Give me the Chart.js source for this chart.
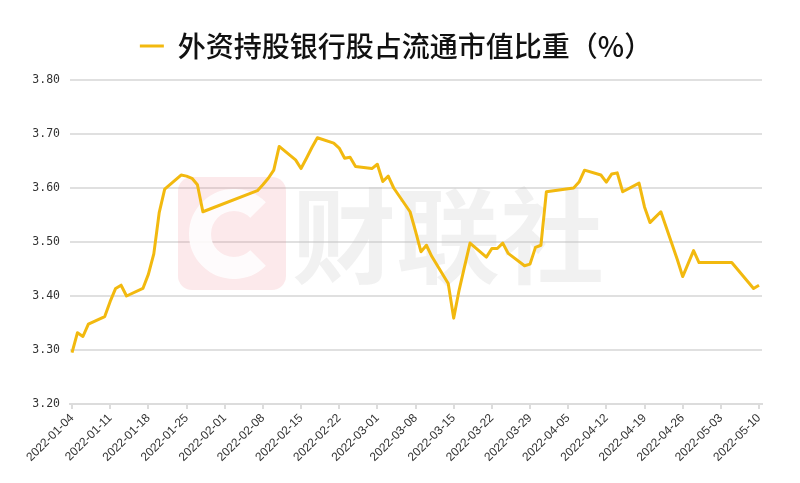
<!DOCTYPE html>
<html>
<head>
<meta charset="utf-8">
<script src="https://cdn.jsdelivr.net/npm/chart.js@4/dist/chart.umd.min.js"></script>
<style>
  html, body { margin: 0; padding: 0; background: #fff; }
</style>
</head>
<body>
<canvas id="share_chart" width="800" height="483"></canvas>
<script>
// data: trading days and the share (%) on each
const series_label = '外资持股银行股占流通市值比重（%）'

const trade_dates = [
  '2022-01-04', '2022-01-05', '2022-01-06', '2022-01-07', '2022-01-10', '2022-01-11', '2022-01-12', '2022-01-13', '2022-01-14',
  '2022-01-17', '2022-01-18', '2022-01-19', '2022-01-20', '2022-01-21', '2022-01-24', '2022-01-25', '2022-01-26', '2022-01-27', '2022-01-28',
  '2022-02-07', '2022-02-08', '2022-02-09', '2022-02-10', '2022-02-11', '2022-02-14', '2022-02-15', '2022-02-16', '2022-02-17', '2022-02-18',
  '2022-02-21', '2022-02-22', '2022-02-23', '2022-02-24', '2022-02-25', '2022-02-28',
  '2022-03-01', '2022-03-02', '2022-03-03', '2022-03-04', '2022-03-07', '2022-03-08', '2022-03-09', '2022-03-10', '2022-03-11',
  '2022-03-14', '2022-03-15', '2022-03-16', '2022-03-17', '2022-03-18', '2022-03-21', '2022-03-22', '2022-03-23', '2022-03-24', '2022-03-25',
  '2022-03-28', '2022-03-29', '2022-03-30', '2022-03-31', '2022-04-01',
  '2022-04-06', '2022-04-07', '2022-04-08', '2022-04-11', '2022-04-12', '2022-04-13', '2022-04-14', '2022-04-15',
  '2022-04-18', '2022-04-19', '2022-04-20', '2022-04-21', '2022-04-22', '2022-04-25', '2022-04-26', '2022-04-27', '2022-04-28', '2022-04-29',
  '2022-05-05', '2022-05-06', '2022-05-09', '2022-05-10'
]

const share_values = [
  3.295, 3.332, 3.325, 3.348, 3.362, 3.390, 3.414, 3.420, 3.400,
  3.414, 3.440, 3.478, 3.555, 3.598, 3.624, 3.622, 3.618, 3.606, 3.556,
  3.595, 3.606, 3.618, 3.633, 3.677, 3.652, 3.636, 3.655, 3.675, 3.693,
  3.683, 3.674, 3.655, 3.657, 3.640, 3.636,
  3.644, 3.612, 3.622, 3.600, 3.556, 3.520, 3.482, 3.494, 3.473,
  3.423, 3.359, 3.411, 3.455, 3.498, 3.472, 3.488, 3.488, 3.498, 3.479,
  3.456, 3.459, 3.490, 3.494, 3.593,
  3.600, 3.611, 3.633, 3.624, 3.611, 3.626, 3.628, 3.593,
  3.609, 3.565, 3.536, 3.546, 3.556, 3.468, 3.436, 3.460, 3.484, 3.462,
  3.462, 3.450, 3.414, 3.420
]

const x_tick_labels = [
  '2022-01-04', '2022-01-11', '2022-01-18', '2022-01-25', '2022-02-01', '2022-02-08', '2022-02-15',
  '2022-02-22', '2022-03-01', '2022-03-08', '2022-03-15', '2022-03-22', '2022-03-29', '2022-04-05',
  '2022-04-12', '2022-04-19', '2022-04-26', '2022-05-03', '2022-05-10'
]

const y_min = 3.2
const y_max = 3.8
const y_step = 0.1

// days counted from the first date, so the axis keeps calendar spacing
function day_index(date_string) {
  const t = Date.parse(date_string + 'T00:00:00Z')
  return Math.round((t - Date.parse(x_tick_labels[0] + 'T00:00:00Z')) / 86400000)
}

const points = trade_dates.map((d, i) => ({ x: day_index(d), y: share_values[i] }))
const last_day = day_index(x_tick_labels[x_tick_labels.length - 1])

// legend box height, so the plot starts where the picture's does
const legend_height_fix = {
  id: 'legend_height_fix',
  beforeInit(chart) {
    const orig_fit = chart.legend.fit
    chart.legend.fit = function () {
      orig_fit.call(this)
      this.height = 58
    }
  }
}

// faint 财联社 watermark behind the line
const watermark = {
  id: 'watermark',
  beforeDatasetsDraw(chart) {
    const ctx = chart.ctx
    ctx.save()
    ctx.fillStyle = 'rgba(236, 120, 130, 0.16)'
    ctx.beginPath()
    ctx.roundRect(178, 177, 108, 113, 14)
    ctx.fill()
    ctx.strokeStyle = 'rgba(255, 255, 255, 0.85)'
    ctx.lineWidth = 22
    ctx.beginPath()
    ctx.arc(234, 234, 34, 0.25 * Math.PI, 1.75 * Math.PI)
    ctx.stroke()
    ctx.fillStyle = 'rgba(190, 190, 190, 0.22)'
    ctx.font = 'bold 104px "Noto Sans CJK SC"'
    ctx.textBaseline = 'middle'
    ctx.fillText('财联社', 292, 236)
    ctx.restore()
  }
}

const config = {
  type: 'line',
  data: {
    datasets: [{
      label: series_label,
      data: points,
      borderColor: '#f2b90f',
      backgroundColor: '#f2b90f',
      borderWidth: 3,
      borderJoinStyle: 'round',
      pointRadius: 0,
      tension: 0,
      fill: false
    }]
  },
  options: {
    responsive: false,
    animation: false,
    layout: { padding: { top: 22, right: 38, left: 30, bottom: 0 } },
    plugins: {
      legend: {
        position: 'top',
        onClick: null,
        labels: {
          usePointStyle: true,
          pointStyle: 'line',
          pointStyleWidth: 24,
          padding: 10,
          color: '#111',
          font: { family: '"Noto Sans CJK SC"', size: 28, weight: '500' }
        }
      },
      tooltip: { enabled: false }
    },
    scales: {
      x: {
        type: 'linear',
        min: -0.37,
        max: last_day + 0.55,
        afterBuildTicks: scale => {
          scale.ticks = x_tick_labels.map(l => ({ value: day_index(l) }))
        },
        afterFit: scale => { scale.height = 79 },
        ticks: {
          autoSkip: false,
          minRotation: 45,
          maxRotation: 45,
          padding: 2,
          color: '#333',
          font: { family: '"Liberation Sans"', size: 12 },
          callback: (value, index) => x_tick_labels[index]
        },
        grid: { drawOnChartArea: false, color: '#dcdcdc', tickLength: 5, lineWidth: 2 },
        border: { color: '#dcdcdc', width: 2 }
      },
      y: {
        min: y_min,
        max: y_max,
        afterFit: scale => { scale.width = 40 },
        ticks: {
          stepSize: y_step,
          padding: 10,
          color: '#333',
          font: { family: '"DejaVu Sans Mono"', size: 11.5 },
          callback: value => value.toFixed(2)
        },
        grid: { color: '#e0e0e0', lineWidth: 2, drawTicks: false },
        border: { display: false }
      }
    }
  },
  plugins: [legend_height_fix, watermark]
}

const share_chart = new Chart(document.getElementById('share_chart'), config)
</script>
</body>
</html>
